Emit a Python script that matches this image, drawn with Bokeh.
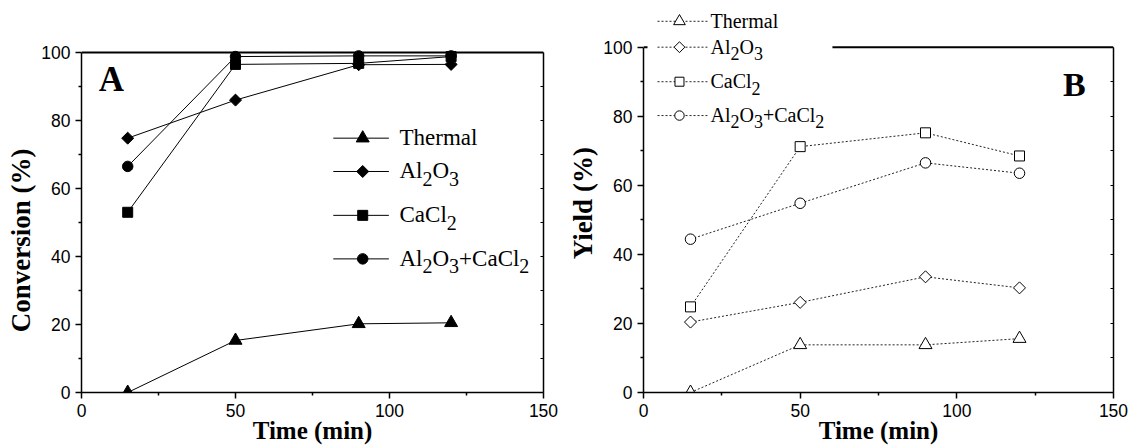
import math
from bokeh.plotting import figure
from bokeh.layouts import row
from bokeh.models import FixedTicker, LinearAxis, Range1d
from bokeh.core.properties import value
from bokeh.embed import file_html
from bokeh.resources import INLINE

# ---------------- data ----------------
time_min = [15, 50, 90, 120]

conv_thermal = [0.0, 15.3, 20.2, 20.5]
conv_al2o3 = [74.8, 86.0, 96.4, 96.5]
conv_cacl2 = [53.0, 96.5, 96.8, 98.8]
conv_both = [66.5, 98.8, 99.0, 99.0]

yield_thermal = [0.0, 13.8, 13.8, 15.6]
yield_al2o3 = [20.4, 26.1, 33.5, 30.3]
yield_cacl2 = [24.8, 71.2, 75.2, 68.5]
yield_both = [44.4, 54.8, 66.5, 63.5]

x_ticks = [0, 50, 100, 150]
x_minor = [25, 75, 125]
y_ticks = [0, 20, 40, 60, 80, 100]
y_minor = [10, 30, 50, 70, 90]
y_all = [0, 10, 20, 30, 40, 50, 60, 70, 80, 90, 100]

# legend labels split into (text, is_subscript) pieces
label_thermal = [("Thermal", False)]
label_al2o3 = [("Al", False), ("2", True), ("O", False), ("3", True)]
label_cacl2 = [("CaCl", False), ("2", True)]
label_both = [("Al", False), ("2", True), ("O", False), ("3", True),
              ("+CaCl", False), ("2", True)]

SERIF = "Liberation Serif"
SANS = "Liberation Sans"
CHAR_W = {'A': 0.722, 'l': 0.278, 'O': 0.722, 'C': 0.667, 'a': 0.444,
          '+': 0.564, '2': 0.5, '3': 0.5, 'T': 0.611, 'h': 0.5, 'e': 0.444,
          'r': 0.333, 'm': 0.778}
MID = 0.3375  # text anchor sits this fraction of the font size above the baseline
NBSP = "\u00a0"


def text_width(s, size):
    return sum(CHAR_W.get(c, 0.5) for c in s) * size


def style_axis(ax, label_size):
    ax.axis_line_width = 1.5
    ax.axis_line_color = "black"
    ax.major_tick_line_width = 1.5
    ax.minor_tick_line_width = 1.5
    ax.major_tick_out = 6
    ax.major_tick_in = 0
    ax.minor_tick_out = 3
    ax.minor_tick_in = 0
    ax.major_label_text_font = SANS
    ax.major_label_text_font_size = "17.5px"
    ax.major_label_text_color = "black"
    ax.major_label_standoff = 5
    ax.axis_label_text_font = SERIF
    ax.axis_label_text_font_style = "bold"
    ax.axis_label_text_font_size = label_size
    ax.axis_label_text_color = "black"


def mirror_axis(ticks, bounds=None):
    ax = LinearAxis(ticker=FixedTicker(ticks=[], minor_ticks=ticks))
    ax.axis_line_width = 1.5
    ax.axis_line_color = "black"
    ax.minor_tick_line_width = 1.0
    ax.minor_tick_in = 3
    ax.minor_tick_out = 0
    ax.major_tick_in = 0
    ax.major_tick_out = 0
    if bounds is not None:
        ax.bounds = bounds
    return ax


def draw_marker(p, x, y, kind, filled, size_scale=1.0):
    fill = "black" if filled else "white"
    common = dict(fill_color=fill, line_color="black", line_width=1.0)
    if kind == "triangle":
        p.scatter(x=x, y=y, marker="triangle", size=13 * size_scale, **common)
    elif kind == "diamond":
        p.scatter(x=x, y=y, marker="square", angle=math.pi / 4,
                  size=8.5 * size_scale, **common)
    elif kind == "square":
        p.scatter(x=x, y=y, marker="square", size=10 * size_scale, **common)
    else:
        p.scatter(x=x, y=y, marker="circle", size=10.5 * size_scale, **common)


def legend_text(p, x, y, dx, base, parts, main, sub, sub_dy):
    off = dx
    for txt, is_sub in parts:
        size = sub if is_sub else main
        p.text(x=[x], y=[y], text=[txt], x_offset=off,
               y_offset=base + (sub_dy if is_sub else 0) - MID * size,
               text_font=value(SERIF), text_font_size=f"{size}px",
               text_baseline="alphabetic", text_align="left",
               text_color="black")
        off += text_width(txt, size)


def base_figure(width, y_end, border_left, border_right, xlabel, ylabel):
    p = figure(width=width, height=448, title=None,
               x_range=Range1d(0, 150), y_range=Range1d(0, y_end),
               output_backend="svg", toolbar_location=None,
               min_border_left=border_left, min_border_right=border_right,
               min_border_top=0, min_border_bottom=56)
    p.xgrid.visible = False
    p.ygrid.visible = False
    p.outline_line_color = None
    p.background_fill_color = "white"
    p.border_fill_color = "white"
    p.xaxis.ticker = FixedTicker(ticks=x_ticks, minor_ticks=x_minor)
    p.yaxis.ticker = FixedTicker(ticks=y_ticks, minor_ticks=y_minor)
    p.yaxis.bounds = (0, 100)
    p.xaxis.axis_label = xlabel
    p.yaxis.axis_label = ylabel
    style_axis(p.xaxis[0], "25px")
    style_axis(p.yaxis[0], "27px")
    p.xaxis.axis_label_standoff = -3
    p.yaxis.axis_label_standoff = 2
    p.add_layout(mirror_axis(y_all, bounds=(0, 100)), "right")
    # top border of the frame at y = 100
    p.segment(x0=[0], y0=[100], x1=[150], y1=[100],
              line_color="black", line_width=2.0)
    return p


kinds = ["triangle", "diamond", "square", "circle"]
labels = [label_thermal, label_al2o3, label_cacl2, label_both]

# ---------------- panel A ----------------
pA = base_figure(560, 115.29, 81, 17, "Time (min)",
                 "Conversion (%)" + NBSP * 13)

conv_series = [conv_thermal, conv_al2o3, conv_cacl2, conv_both]
for ys in conv_series:
    pA.line(time_min, ys, line_color="black", line_width=1.0)
for ys, kind in zip(conv_series, kinds):
    draw_marker(pA, time_min, ys, kind, True)

legA_rows = [74.8, 65.0, 52.1, 39.3]
for yrow, kind, parts in zip(legA_rows, kinds, labels):
    pA.segment(x0=[81.75], y0=[yrow], x1=[99.8], y1=[yrow],
               line_color="black", line_width=1.0)
    draw_marker(pA, [91.3], [yrow], kind, True)
    legend_text(pA, 91.3, yrow, 36.8, 7.0, parts, 23, 20, 7.0)

pA.text(x=[5.6], y=[88.5], text=["A"], y_offset=-MID * 35,
        text_font=value(SERIF),
        text_font_style="bold", text_font_size="35px",
        text_baseline="alphabetic", text_align="left", text_color="black")

# ---------------- panel B ----------------
pB = base_figure(569, 113.52, 83, 16, "Time (min)",
                 "Yield (%)" + NBSP * 2)

yield_series = [yield_thermal, yield_al2o3, yield_cacl2, yield_both]
for ys in yield_series:
    pB.line(time_min, ys, line_color="#222222", line_width=1.0, line_dash="2 2")
for ys, kind in zip(yield_series, kinds):
    draw_marker(pB, time_min, ys, kind, False)

# legend B (white box over the top border)
pB.quad(left=[1.28], right=[60.3], bottom=[93.0], top=[113.52],
        fill_color="white", line_color=None)
legB_rows = [107.5, 100.0, 90.0, 80.2]
for yrow, kind, parts in zip(legB_rows, kinds, labels):
    pB.segment(x0=[4.47], y0=[yrow], x1=[20.4], y1=[yrow],
               line_color="#222222", line_width=1.0, line_dash="2 2")
    draw_marker(pB, [11.48], [yrow], kind, False, size_scale=0.9)
    legend_text(pB, 11.48, yrow, 31, 6.5, parts, 20, 18, 6.0)

pB.text(x=[133.9], y=[86.0], text=["B"], y_offset=-MID * 34,
        text_font=value(SERIF),
        text_font_style="bold", text_font_size="34px",
        text_baseline="alphabetic", text_align="left", text_color="black")

layout = row(pA, pB)
open("out.html", "w").write(file_html(layout, INLINE))
